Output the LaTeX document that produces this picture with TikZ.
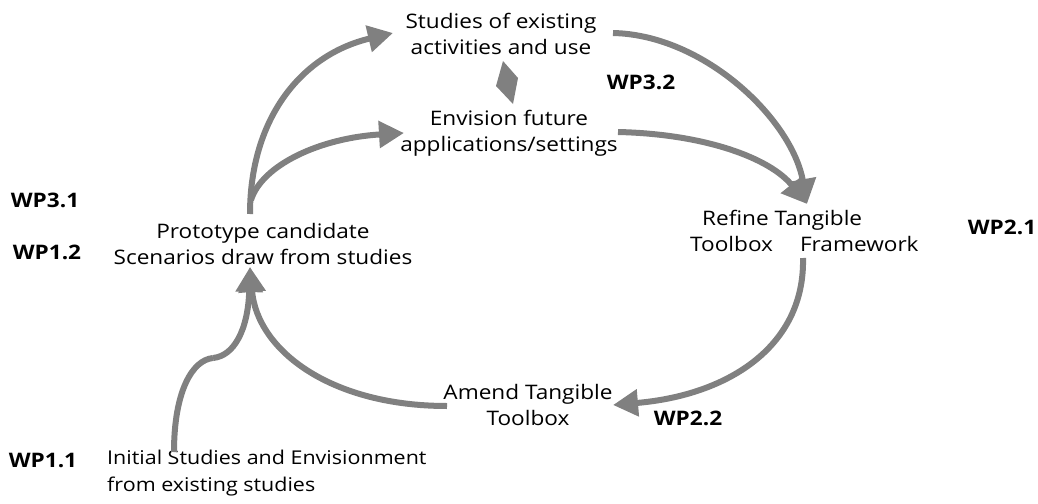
\documentclass[tikz,border=0pt]{standalone}
\usepackage{fontspec}
\setmainfont[FakeStretch=1.13]{Open Sans}
\usetikzlibrary{arrows.meta}
\definecolor{arrowgray}{HTML}{808080}
\tikzset{
  lbl/.style={inner sep=0pt, font=\fontsize{20}{26}\selectfont, align=center},
  wp/.style={inner sep=0pt, font=\fontsize{20}{26}\selectfont\bfseries},
  conn/.style={draw=arrowgray, line width=6pt, -{Triangle[length=25pt,width=26pt]}, arrowgray},
  connplain/.style={draw=arrowgray, line width=6pt},
}
\begin{document}
\begin{tikzpicture}[x=1pt,y=-1pt]
\useasboundingbox (0,0) rectangle (1038,503);
% text nodes
\node[lbl] (studies) at (501,34) {Studies of existing\\activities and use};
\node[lbl] (envision) at (509,133) {Envision future\\applications/settings};
\node[lbl] (proto) at (263,244) {Prototype candidate\\Scenarios draw from studies};
\node[lbl, align=left, anchor=west] (refine) at (690,231) {\hspace*{12pt}Refine Tangible\\Toolbox\hspace{27pt}Framework};
\node[lbl] (amend) at (528,405) {Amend Tangible\\Toolbox};
\node[lbl, align=left, anchor=west, font=\fontsize{19}{27}\selectfont] (initial) at (107,473) {Initial Studies and Envisionment\\from existing studies};
\node[wp] (wp31) at (45,200) {WP3.1};
\node[wp] (wp12) at (47,252) {WP1.2};
\node[wp] (wp32) at (641,82) {WP3.2};
\node[wp] (wp21) at (1002,227) {WP2.1};
\node[wp] (wp22) at (688,418) {WP2.2};
\node[wp] (wp11) at (43,460) {WP1.1};
% diamond between studies and envision
\fill[arrowgray] (503,61) -- (518,78) -- (513,104) -- (496,86) -- cycle;
% connector end points
\coordinate (protoTop) at (250,214);
\coordinate (protoBranch) at (251,200);
\coordinate (studiesIn) at (393,33);
\coordinate (envisionIn) at (404,133);
\coordinate (studiesOut) at (613,33);
\coordinate (envisionOut) at (618,132);
\coordinate (refineIn) at (807,204);
\coordinate (refineOut) at (803,258);
\coordinate (amendIn) at (613,405);
\coordinate (amendOut) at (447,406);
\coordinate (protoBottom) at (250,267);
\coordinate (initialOut) at (174,452);
\coordinate (bump) at (213,358);
% connectors
\draw[conn] (protoTop) .. controls (250,120) and (300,55) .. (studiesIn);
\draw[conn] (protoBranch) .. controls (262,165) and (320,138) .. (envisionIn);
\draw[conn] (studiesOut) .. controls (705,35) and (792,120) .. (refineIn);
\draw[conn] (envisionOut) .. controls (705,134) and (770,158) .. (refineIn);
\draw[conn] (refineOut) .. controls (805,345) and (730,395) .. (amendIn);
\draw[conn] (amendOut) .. controls (330,406) and (257,350) .. (protoBottom);
\draw[connplain] (initialOut) .. controls (174,392) and (192,360) .. (bump);
\draw[conn] (bump) .. controls (234,356) and (248,330) .. (protoBottom);
\end{tikzpicture}
\end{document}
